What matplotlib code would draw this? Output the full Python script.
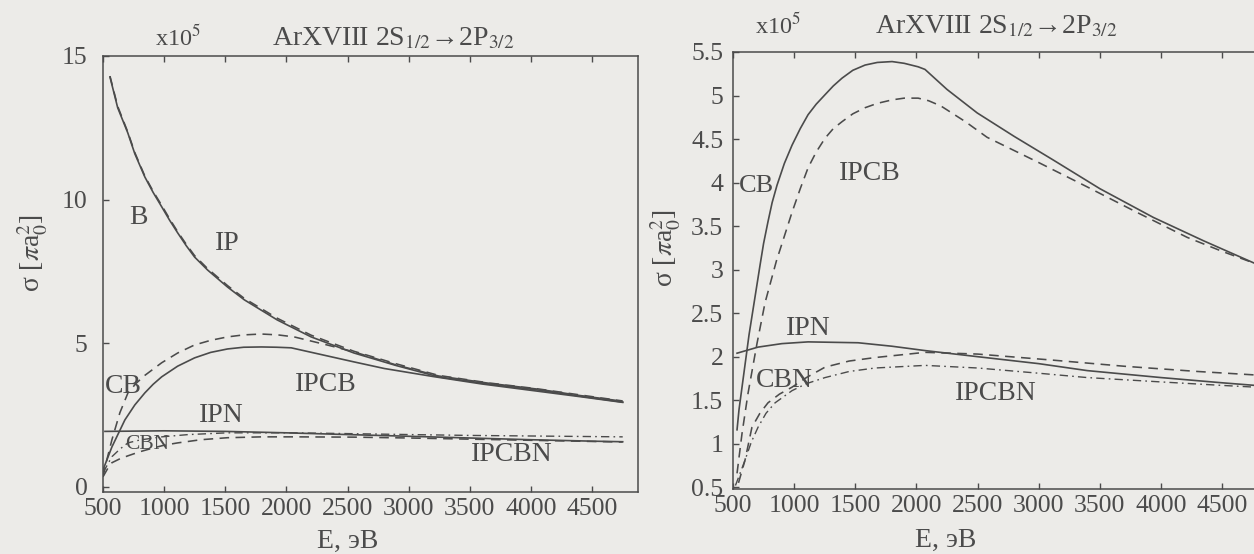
import matplotlib
matplotlib.use("Agg")
import matplotlib.pyplot as plt

plt.rcParams['font.family'] = ['Liberation Serif', 'DejaVu Serif']
plt.rcParams['mathtext.fontset'] = 'stix'

# ---------------- data (values in units of 1e5 pi a0^2) ----------------
# Left panel
E_top = [557, 620, 703, 760, 842, 910, 980, 1045, 1111, 1180, 1249, 1355, 1520, 1656, 1925, 2202, 2552, 2900, 3244, 3650, 4058, 4400, 4750]
IP_left = [14.27, 13.2, 12.32, 11.6, 10.79, 10.25, 9.75, 9.28, 8.84, 8.4, 8.0, 7.55, 6.95, 6.51, 5.81, 5.22, 4.66, 4.22, 3.83, 3.58, 3.37, 3.16, 2.95]
B_left = [14.3, 13.25, 12.35, 11.64, 10.82, 10.29, 9.8, 9.33, 8.88, 8.45, 8.05, 7.6, 7.0, 6.56, 5.87, 5.28, 4.72, 4.28, 3.88, 3.62, 3.41, 3.2, 2.99]

E_ipcb_l = [500, 573, 679, 760, 842, 910, 980, 1110, 1249, 1380, 1518, 1650, 1795, 1920, 2039, 2332, 2552, 2800, 3200, 3600, 4000, 4400, 4750]
IPCB_left = [0.59, 1.39, 2.33, 2.85, 3.27, 3.57, 3.83, 4.2, 4.49, 4.68, 4.80, 4.86, 4.87, 4.86, 4.84, 4.56, 4.35, 4.12, 3.84, 3.58, 3.36, 3.14, 2.94]

E_cb_l = [500, 535, 573, 638, 704, 770, 842, 980, 1111, 1249, 1380, 1518, 1650, 1795, 1930, 2063, 2332, 2552, 2900, 3244, 3650, 4058, 4400, 4750]
CB_left = [0.35, 1.0, 1.64, 2.58, 3.27, 3.6, 3.88, 4.32, 4.66, 4.94, 5.1, 5.22, 5.29, 5.32, 5.29, 5.22, 4.94, 4.70, 4.24, 3.86, 3.61, 3.40, 3.18, 2.98]

E_ipn_l = [516, 1000, 1500, 2000, 2500, 3000, 3500, 4000, 4500, 4750]
IPN_left = [1.93, 1.95, 1.93, 1.88, 1.82, 1.76, 1.70, 1.64, 1.59, 1.57]

E_cbn_l = [500, 540, 573, 640, 704, 800, 900, 1000, 1111, 1300, 1518, 1800, 2063, 2552, 3000, 3500, 4000, 4500, 4750]
CBN_left = [0.35, 0.65, 0.84, 0.98, 1.08, 1.22, 1.34, 1.45, 1.53, 1.64, 1.71, 1.74, 1.74, 1.73, 1.70, 1.66, 1.62, 1.58, 1.56]

E_ipcbn_l = [500, 573, 640, 704, 800, 980, 1200, 1518, 2063, 2552, 3000, 3500, 4000, 4500, 4750]
IPCBN_left = [0.49, 1.05, 1.32, 1.53, 1.63, 1.74, 1.82, 1.88, 1.88, 1.85, 1.82, 1.79, 1.77, 1.75, 1.74]

# Right panel
E_cb_r = [533, 549, 631, 721, 750, 786, 820, 860, 920, 983, 1050, 1114, 1180, 1253, 1320, 1392, 1480, 1580, 1680, 1801, 1900, 2014, 2070, 2250, 2497, 2800, 3118, 3500, 3937, 4350, 4770]
CB_right = [1.16, 1.39, 2.25, 3.05, 3.3, 3.55, 3.77, 3.97, 4.22, 4.43, 4.62, 4.78, 4.9, 5.01, 5.11, 5.20, 5.29, 5.35, 5.38, 5.39, 5.37, 5.33, 5.30, 5.07, 4.80, 4.53, 4.26, 3.93, 3.60, 3.33, 3.07]

E_ipcb_r = [533, 574, 623, 696, 762, 855, 983, 1050, 1114, 1180, 1253, 1320, 1392, 1480, 1580, 1680, 1801, 1900, 2014, 2100, 2200, 2400, 2578, 3000, 3397, 3800, 4215, 4500, 4770]
IPCB_right = [0.66, 1.12, 1.58, 2.15, 2.62, 3.1, 3.66, 3.93, 4.17, 4.35, 4.51, 4.62, 4.70, 4.79, 4.86, 4.91, 4.95, 4.97, 4.97, 4.94, 4.88, 4.70, 4.52, 4.23, 3.95, 3.66, 3.37, 3.21, 3.07]

E_ipn_r = [533, 705, 900, 1114, 1523, 1800, 2071, 2500, 3000, 3397, 4000, 4500, 4770]
IPN_right = [2.04, 2.11, 2.15, 2.17, 2.16, 2.12, 2.07, 2.00, 1.92, 1.84, 1.76, 1.70, 1.67]

E_cbn_r = [545, 598, 655, 720, 786, 880, 983, 1100, 1253, 1450, 1662, 2071, 2500, 3118, 3700, 4300, 4770]
CBN_right = [0.55, 0.81, 1.19, 1.35, 1.47, 1.57, 1.65, 1.76, 1.88, 1.95, 1.99, 2.05, 2.03, 1.96, 1.89, 1.83, 1.79]

E_ipcbn_r = [520, 598, 650, 705, 770, 844, 983, 1100, 1253, 1450, 1662, 2071, 2500, 3000, 3397, 4000, 4500, 4770]
IPCBN_right = [0.52, 0.81, 1.02, 1.19, 1.35, 1.47, 1.61, 1.69, 1.76, 1.83, 1.87, 1.90, 1.87, 1.81, 1.76, 1.71, 1.67, 1.65]

xticks = [500, 1000, 1500, 2000, 2500, 3000, 3500, 4000, 4500]
yticks_left = [0, 5, 10, 15]
yticks_right = [0.5, 1, 1.5, 2, 2.5, 3, 3.5, 4, 4.5, 5, 5.5]
yticklabels_right = ['0.5', '1', '1.5', '2', '2.5', '3', '3.5', '4', '4.5', '5', '5.5']

# ---------------- style ----------------
BG = '#ecebe8'
INK = '#4b4b4b'
W, H = 1254, 554
fig = plt.figure(figsize=(W / 100, H / 100), dpi=100, facecolor=BG)

def px_ax(x0, x1, ytop, ybot):
    return [x0 / W, (H - ybot) / H, (x1 - x0) / W, (ybot - ytop) / H]

axL = fig.add_axes(px_ax(103, 638, 56, 492))
axR = fig.add_axes(px_ax(733, 1268, 52, 489))

SOLID = dict(color=INK, lw=1.2, ls='-')
DASH = dict(color=INK, lw=1.15, ls=(0, (6, 4)))
DDOT = dict(color=INK, lw=1.0, ls=(0, (6, 3, 1.2, 3)))

# left
axL.plot(E_top, IP_left, **SOLID)
axL.plot(E_top, B_left, **DASH)
axL.plot(E_ipcb_l, IPCB_left, **SOLID)
axL.plot(E_cb_l, CB_left, **DASH)
axL.plot(E_ipn_l, IPN_left, **SOLID)
axL.plot(E_cbn_l, CBN_left, **DASH)
axL.plot(E_ipcbn_l, IPCBN_left, **DDOT)
axL.set_xlim(500, 4875)
axL.set_ylim(-0.18, 15)
axL.set_yticks(yticks_left)

# right
axR.plot(E_cb_r, CB_right, **SOLID)
axR.plot(E_ipcb_r, IPCB_right, **DASH)
axR.plot(E_ipn_r, IPN_right, **SOLID)
axR.plot(E_cbn_r, CBN_right, **DASH)
axR.plot(E_ipcbn_r, IPCBN_right, **DDOT)
axR.set_xlim(500, 4875)
axR.set_ylim(0.48, 5.5)
axR.set_yticks(yticks_right)
axR.set_yticklabels(yticklabels_right)

for ax, ypad in ((axL, 11), (axR, 7)):
    ax.set_facecolor(BG)
    ax.set_xticks(xticks)
    for s in ax.spines.values():
        s.set_color(INK)
        s.set_linewidth(1.1)
    ax.tick_params(axis='x', direction='in', top=True, bottom=True, length=4,
                   width=1, colors=INK, labelsize=18.5, pad=4)
    ax.tick_params(axis='y', direction='in', left=True, right=False, length=4,
                   width=1, colors=INK, labelsize=18.5, pad=ypad)
axR.spines['right'].set_visible(False)

LBL = dict(color=INK, ha='center', va='center')
# left panel labels
axL.text(793, 9.36, 'B', fontsize=20, **LBL)
axL.text(1518, 8.46, 'IP', fontsize=20, **LBL)
axL.text(663, 3.48, 'CB', fontsize=20, **LBL)
axL.text(2324, 3.55, 'IPCB', fontsize=20, **LBL)
axL.text(1469, 2.47, 'IPN', fontsize=20, **LBL)
axL.text(858, 1.46, 'CBN', fontsize=15.5, **LBL)
axL.text(3847, 1.11, 'IPCBN', fontsize=20, **LBL)
# right panel labels
axR.text(688, 3.96, 'CB', fontsize=19, **LBL)
axR.text(1621, 4.11, 'IPCB', fontsize=20, **LBL)
axR.text(1114, 2.32, 'IPN', fontsize=20, **LBL)
axR.text(917, 1.73, 'CBN', fontsize=20, **LBL)
axR.text(2652, 1.58, 'IPCBN', fontsize=20, **LBL)

def ftext(x, y, s, **kw):
    fig.text(x / W, (H - y) / H, s, color=INK, **kw)

title = r'ArXVIII 2S$_{1/2}$→2P$_{3/2}$'
ftext(155, 45, r'x10$^5$', fontsize=17.5, ha='left', va='baseline')
ftext(272, 45, title, fontsize=20, ha='left', va='baseline')
ftext(755, 33, r'x10$^5$', fontsize=17.5, ha='left', va='baseline')
ftext(875, 33, title, fontsize=20, ha='left', va='baseline')

ylab = r'σ [$\pi$a$_0^2$]'
ftext(33, 253, ylab, fontsize=20, rotation=90, ha='center', va='center')
ftext(666, 248, ylab, fontsize=20, rotation=90, ha='center', va='center')
ftext(348, 541, 'E, эВ', fontsize=20, ha='center', va='center')
ftext(946, 540, 'E, эВ', fontsize=20, ha='center', va='center')

fig.savefig('out.png', dpi=100, facecolor=BG)
